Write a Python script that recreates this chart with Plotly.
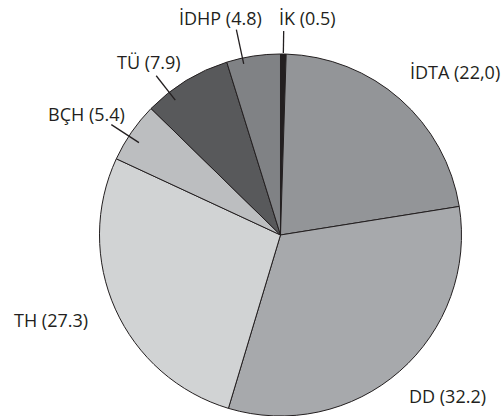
import math
import plotly.graph_objects as go

# ---- data ----
labels = ["İK", "İDTA", "DD", "TH", "BÇH", "TÜ", "İDHP"]
values = [0.5, 22.0, 32.2, 27.3, 5.4, 7.9, 4.8]
value_text = ["0.5", "22,0", "32.2", "27.3", "5.4", "7.9", "4.8"]

# ---- style ----
colors = ["#231f20", "#939598", "#a7a9ac", "#d1d3d4", "#bcbec0", "#58595b", "#808285"]
W, H = 502, 416
dom_x = [0.1962, 0.9213]
dom_y = [0.0, 0.8702]
# text centre offset (px) from slice edge point at mid-angle
text_offset = {
    "İK": (24.6, -36), "İDTA": (55, -27), "DD": (48, 25), "TH": (-64, 11),
    "BÇH": (-45, -18), "TÜ": (-37, -19), "İDHP": (-33, -38),
}
# leader lines: (angle nudge deg, inner radius px, outer radius px)
leader = {"İK": (0, 182, 204), "İDHP": (-3.5, 175, 210),
          "TÜ": (-6.5, 171, 202), "BÇH": (-1.5, 169, 202)}
font = dict(family="Open Sans, sans-serif", size=18, color="#231f20")

fig = go.Figure(go.Pie(
    labels=labels, values=values, sort=False, direction="clockwise", rotation=0,
    marker=dict(colors=colors, line=dict(color="#231f20", width=1)),
    textinfo="none", hoverinfo="label+value", showlegend=False,
    domain=dict(x=dom_x, y=dom_y),
))

cx = (dom_x[0] + dom_x[1]) / 2 * W
cy = H * (1 - (dom_y[0] + dom_y[1]) / 2)
r = min((dom_x[1] - dom_x[0]) * W, (dom_y[1] - dom_y[0]) * H) / 2

total = sum(values)
cum = 0.0
annotations, shapes = [], []
for lab, v, vt in zip(labels, values, value_text):
    mid = (cum + v / 2) / total * 360.0
    cum += v
    a = math.radians(mid)
    px, py = cx + r * math.sin(a), cy - r * math.cos(a)
    ox, oy = text_offset[lab]
    annotations.append(dict(
        x=(px + ox) / W, y=1 - (py + oy) / H, xref="paper", yref="paper",
        text=f"{lab} ({vt})", showarrow=False, xanchor="center", yanchor="middle",
        font=font,
    ))
    if lab in leader:
        nd, r0, r1 = leader[lab]
        b = math.radians(mid + nd)
        x0, y0 = cx + r0 * math.sin(b), cy - r0 * math.cos(b)
        x1, y1 = cx + r1 * math.sin(b), cy - r1 * math.cos(b)
        shapes.append(dict(type="line", xref="paper", yref="paper",
                           x0=x0 / W, y0=1 - y0 / H, x1=x1 / W, y1=1 - y1 / H,
                           line=dict(color="#231f20", width=1.3)))

fig.update_layout(
    width=W, height=H, margin=dict(l=0, r=0, t=0, b=0),
    paper_bgcolor="white", plot_bgcolor="white",
    annotations=annotations, shapes=shapes,
)
fig.write_html("out.html", config={"displayModeBar": False},
               post_script="document.body.style.margin='0';document.body.style.overflow='hidden';")
